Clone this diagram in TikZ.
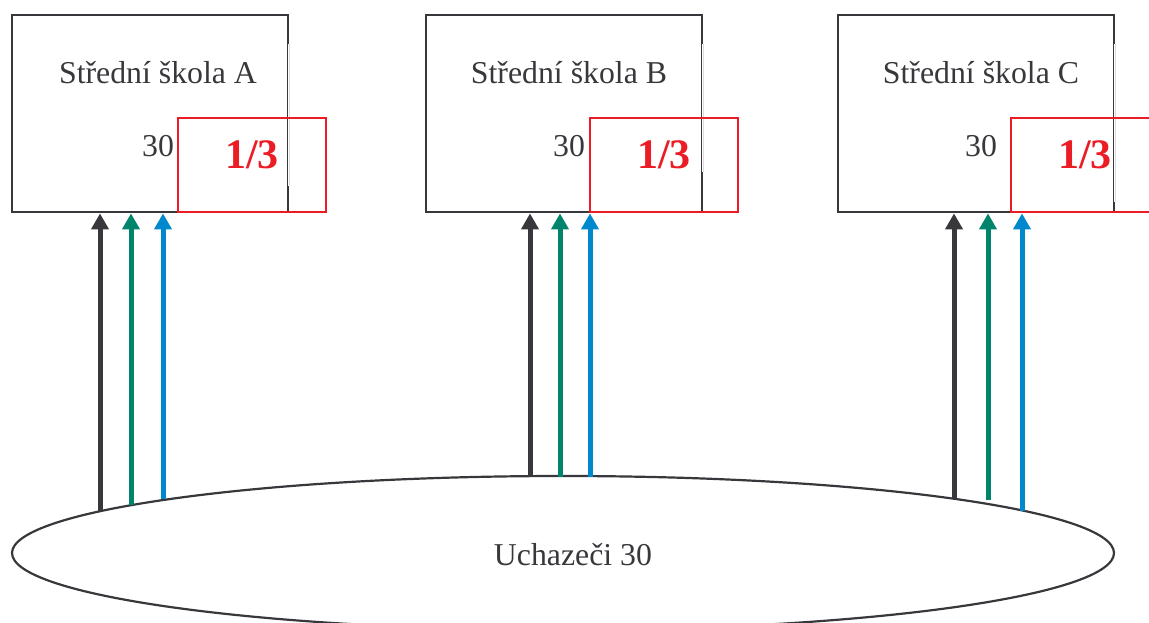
\documentclass[tikz,border=0pt]{standalone}
\usepackage{fontspec}
\setmainfont{Liberation Serif}
\usetikzlibrary{shapes.geometric,arrows.meta,calc}
\definecolor{ink}{HTML}{38383C}
\definecolor{redc}{HTML}{EC1C24}
\definecolor{greenc}{HTML}{00846C}
\definecolor{bluec}{HTML}{0088CC}
\definecolor{faint}{HTML}{DCDCDC}
\tikzset{
  school/.style={draw=ink,line width=2.8pt,minimum width=276pt,minimum height=197pt,inner sep=0pt},
  share/.style={draw=redc,line width=2.4pt,minimum width=148pt,minimum height=94pt,inner sep=0pt},
  txt/.style={text=ink,font=\fontsize{31.8}{36}\selectfont,anchor=base,inner sep=0pt},
  frac/.style={text=redc,font=\fontsize{42}{48}\selectfont\bfseries,anchor=base,inner sep=0pt},
  arr/.style={line width=5pt,-{Triangle[width=17pt,length=16pt]}},
  arrk/.style={arr,draw=ink},
  arrg/.style={arr,draw=greenc},
  arrb/.style={arr,draw=bluec},
}
\begin{document}
\begin{tikzpicture}[x=1pt,y=-1pt]
\useasboundingbox (0,0) rectangle (1149,623);
% applicants
\node[draw=ink,line width=2.2pt,ellipse,minimum width=1102pt,minimum height=154pt,inner sep=0pt] (U) at (563,553) {};
\node[txt] (Ut) at (573,565) {Uchazeči 30};
% schools
\foreach \n/\cx/\lo/\sx/\rx/\tt in {A/150/185/158/252/A, B/564/171/569/664/B, C/976/201/981/1085/C}{
  \node[school] (\n) at (\cx,113.5) {};
  \draw[white,line width=3.2pt] ($(\n.north east)+(0,30)$) -- ($(\n.south east)+(0,{-(212-\lo)})$);
  \draw[faint,line width=1pt] ($(\n.north east)+(0,30)$) -- ($(\n.south east)+(0,{-(212-\lo)})$);
  \node[txt] (\n t) at (\sx,84) {Střední škola \tt};
  \node[txt] (\n n) at (\sx,157) {30};
  \node[share] (\n s) at (\rx,165) {};
  \node[frac] (\n f) at (\rx,168) {1/3};
}
% arrows
\coordinate (a1) at (100,512);
\coordinate (a2) at (131,505);
\coordinate (a3) at (163,499);
\coordinate (b1) at (530,477);
\coordinate (b2) at (560,477);
\coordinate (b3) at (590,477);
\coordinate (c1) at (954,499);
\coordinate (c2) at (988,500);
\coordinate (c3) at (1022,511);
\draw[arrk] (a1) -- (a1 |- A.south);
\draw[arrg] (a2) -- (a2 |- A.south);
\draw[arrb] (a3) -- (a3 |- A.south);
\draw[arrk] (b1) -- (b1 |- B.south);
\draw[arrg] (b2) -- (b2 |- B.south);
\draw[arrb] (b3) -- (b3 |- B.south);
\draw[arrk] (c1) -- (c1 |- C.south);
\draw[arrg] (c2) -- (c2 |- C.south);
\draw[arrb] (c3) -- (c3 |- C.south);
\end{tikzpicture}
\end{document}
